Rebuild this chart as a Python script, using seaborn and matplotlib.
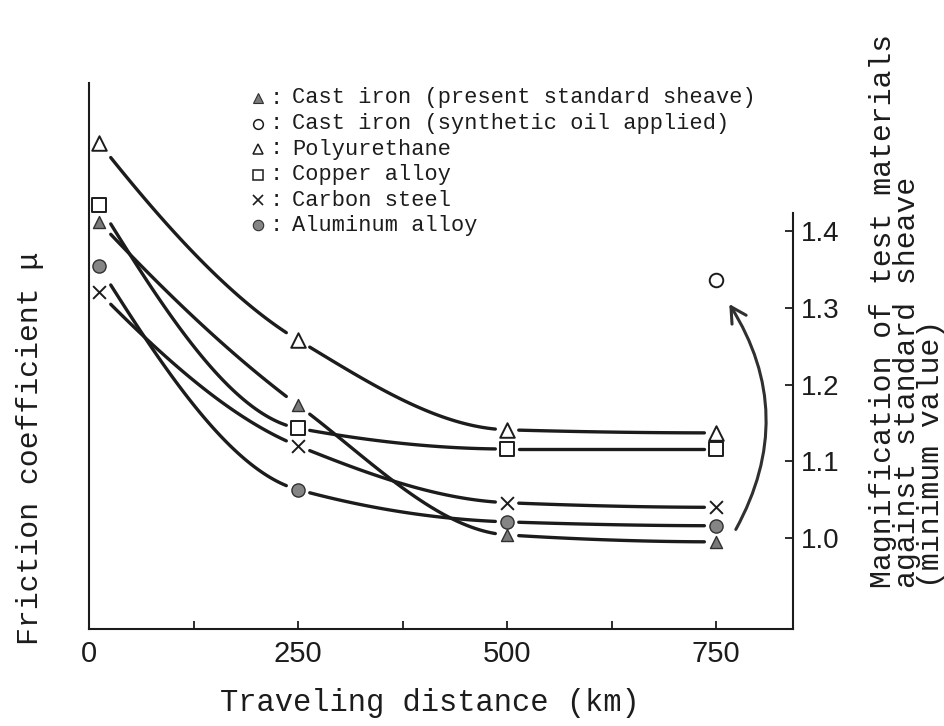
import numpy as np
import pandas as pd
import matplotlib
matplotlib.use("Agg")
import matplotlib.pyplot as plt
import seaborn as sns
from matplotlib.patches import FancyArrowPatch

# ---------------- data ----------------
distance_km = [12, 250, 500, 750]
cast_iron_std = [1.412, 1.173, 1.004, 0.995]
polyurethane = [1.515, 1.258, 1.141, 1.137]
copper_alloy = [1.434, 1.143, 1.116, 1.116]
carbon_steel = [1.320, 1.120, 1.046, 1.040]
aluminum_alloy = [1.354, 1.063, 1.021, 1.016]
synthetic_oil_km = [750]
synthetic_oil = [1.336]

legend_labels = [
    "Cast iron (present standard sheave)",
    "Cast iron (synthetic oil applied)",
    "Polyurethane",
    "Copper alloy",
    "Carbon steel",
    "Aluminum alloy",
]
x_ticks = [0, 125, 250, 375, 500, 625, 750]
x_tick_labels = ["0", "", "250", "", "500", "", "750"]
y_ticks = [1.0, 1.1, 1.2, 1.3, 1.4]
y_tick_labels = ["1.0", "1.1", "1.2", "1.3", "1.4"]

# ---------------- helpers ----------------
def pchip(xs, ys, xq):
    xs = np.asarray(xs, float)
    ys = np.asarray(ys, float)
    h = np.diff(xs)
    d = np.diff(ys) / h
    n = len(xs)
    m = np.zeros(n)
    for k in range(1, n - 1):
        if d[k - 1] * d[k] > 0:
            w1 = 2 * h[k] + h[k - 1]
            w2 = h[k] + 2 * h[k - 1]
            m[k] = (w1 + w2) / (w1 / d[k - 1] + w2 / d[k])

    def edge(h0, h1, d0, d1):
        mm = ((2 * h0 + h1) * d0 - h0 * d1) / (h0 + h1)
        if np.sign(mm) != np.sign(d0):
            mm = 0.0
        elif np.sign(d0) != np.sign(d1) and abs(mm) > abs(3 * d0):
            mm = 3 * d0
        return mm

    m[0] = edge(h[0], h[1], d[0], d[1])
    m[-1] = edge(h[-1], h[-2], d[-1], d[-2])
    xq = np.asarray(xq, float)
    idx = np.clip(np.searchsorted(xs, xq) - 1, 0, n - 2)
    t = (xq - xs[idx]) / h[idx]
    h00 = 2 * t**3 - 3 * t**2 + 1
    h10 = t**3 - 2 * t**2 + t
    h01 = -2 * t**3 + 3 * t**2
    h11 = t**3 - t**2
    return (h00 * ys[idx] + h10 * h[idx] * m[idx]
            + h01 * ys[idx + 1] + h11 * h[idx] * m[idx + 1])

# ---------------- figure ----------------
sns.set_theme(style="white")
plt.rcParams["font.family"] = ["Liberation Mono", "DejaVu Sans Mono", "DejaVu Sans"]

W, H = 945, 726
fig = plt.figure(figsize=(W / 100, H / 100), dpi=100)
fig.patch.set_facecolor("white")
ax = fig.add_axes([89 / W, 97 / H, 704 / W, 546 / H])
ax.set_facecolor("white")
ax.set_xlim(0, 842)
ax.set_ylim(0.8814, 1.593)

ink = "#1c1c1c"

series = [
    ("Polyurethane", polyurethane),
    ("Copper alloy", copper_alloy),
    ("Cast iron (present standard sheave)", cast_iron_std),
    ("Carbon steel", carbon_steel),
    ("Aluminum alloy", aluminum_alloy),
]

# smooth hand-drawn-like curves with gaps at the markers
gap = 14
for name, vals in series:
    for i in range(len(distance_km) - 1):
        xa = distance_km[i] + gap
        xb = distance_km[i + 1] - gap
        xq = np.linspace(xa, xb, 120)
        ax.plot(xq, pchip(distance_km, vals, xq), color=ink, lw=2.4,
                solid_capstyle="round", zorder=2)

# markers drawn with seaborn
marker_styles = {
    "Cast iron (present standard sheave)": dict(marker="^", s=75, facecolor="#7a7a7a", edgecolor="#303030", linewidth=1.0),
    "Polyurethane": dict(marker="^", s=110, facecolor="white", edgecolor=ink, linewidth=1.4),
    "Copper alloy": dict(marker="s", s=95, facecolor="white", edgecolor=ink, linewidth=1.4),
    "Carbon steel": dict(marker="x", s=85, color=ink, linewidth=1.4),
    "Aluminum alloy": dict(marker="o", s=90, facecolor="#858585", edgecolor="#303030", linewidth=1.0),
}
for name, vals in series:
    df = pd.DataFrame({"km": distance_km, "mag": vals})
    sns.scatterplot(data=df, x="km", y="mag", ax=ax, zorder=3, legend=False,
                    **marker_styles[name])
df_oil = pd.DataFrame({"km": synthetic_oil_km, "mag": synthetic_oil})
sns.scatterplot(data=df_oil, x="km", y="mag", ax=ax, marker="o", s=95,
                facecolor="white", edgecolor=ink, linewidth=1.4, zorder=3, legend=False)

# curved arrow from cast iron (750 km) to synthetic-oil point
arrow = FancyArrowPatch(
    posA=(distance_km[-1] + 22, cast_iron_std[-1] + 0.013),
    posB=(synthetic_oil_km[0] + 14, synthetic_oil[0] - 0.028),
    connectionstyle="arc3,rad=0.3",
    arrowstyle="->,head_length=0.55,head_width=0.3",
    mutation_scale=20, lw=2.2, color="#303030", zorder=2)
ax.add_patch(arrow)

# axes styling
ax.spines["top"].set_visible(False)
for side in ["left", "right", "bottom"]:
    ax.spines[side].set_color(ink)
    ax.spines[side].set_linewidth(1.5)
ax.spines["right"].set_bounds(0.8814, 1.4235)

ax.set_xticks(x_ticks)
ax.set_xticklabels(x_tick_labels, family=["Liberation Sans Narrow", "Liberation Sans"], fontsize=21)
ax.yaxis.tick_right()
ax.set_yticks(y_ticks)
ax.set_yticklabels(y_tick_labels, family=["Liberation Sans Narrow", "Liberation Sans"], fontsize=20)
ax.tick_params(axis="x", direction="in", length=6, width=1.3, color=ink, pad=8,
               labelcolor=ink, bottom=True)
ax.tick_params(axis="y", direction="in", length=6, width=1.3, color=ink, pad=6,
               labelcolor=ink, right=True, left=False)
ax.set_xlabel("")
ax.set_ylabel("")
ax.grid(False)

# axis titles
fig.text(430 / W, 1 - 703 / H, "Traveling distance (km)", ha="center", va="center",
         fontsize=22, color=ink)
fig.text(30 / W, 1 - 645 / H, "Friction coefficient \u03bc", rotation=90,
         ha="center", va="bottom", fontsize=21.5, color=ink)
right_lines = ["Magnification of test materials", "against standard sheave", "(minimum value)"]
fig.text(907 / W, 1 - 588 / H, "\n".join(right_lines), rotation=90, ha="center",
         va="bottom", multialignment="left", linespacing=0.8, fontsize=21.5, color=ink)

# legend (markers + text)
legend_markers = [
    dict(marker="^", ms=7, mfc="#7a7a7a", mec="#303030", mew=0.8),
    dict(marker="o", ms=7, mfc="white", mec=ink, mew=1.1),
    dict(marker="^", ms=7, mfc="white", mec=ink, mew=1.1),
    dict(marker="s", ms=7, mfc="white", mec=ink, mew=1.1),
    dict(marker="x", ms=7, mfc=ink, mec=ink, mew=1.2),
    dict(marker="o", ms=7.5, mfc="#858585", mec="#303030", mew=0.8),
]
for i, (lab, mk) in enumerate(zip(legend_labels, legend_markers)):
    ypx = 98 + 25.5 * i
    yf = 1 - ypx / H
    ax.plot([258 / W], [yf], transform=fig.transFigure, clip_on=False,
            linestyle="none", **mk)
    fig.text(276 / W, yf, ":", ha="center", va="center", fontsize=15.8, color=ink)
    fig.text(292 / W, yf, lab, ha="left", va="center", fontsize=15.8, color=ink)

fig.savefig("out.png", dpi=100, facecolor="white")
